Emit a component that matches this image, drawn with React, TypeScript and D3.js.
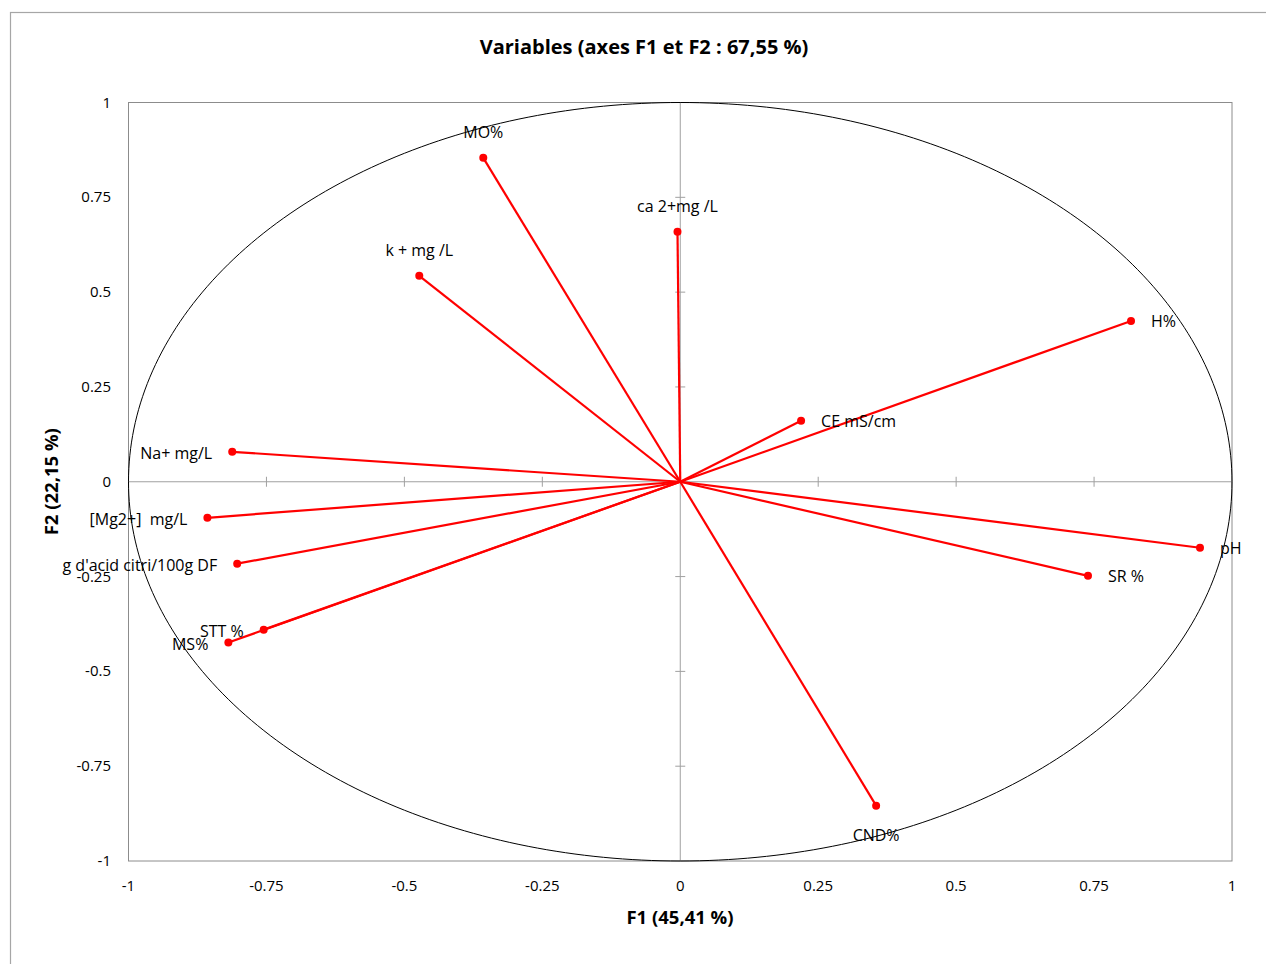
import React from "react";
import * as d3 from "d3";

const variables = ["MO%", "ca 2+mg /L", "k + mg /L", "H%", "CE mS/cm", "Na+ mg/L", "[Mg2+]\u00a0\u00a0mg/L", "g d'acid citri/100g DF", "STT %", "MS%", "pH", "SR %", "CND%"];
const f1Values = [-0.357, -0.005, -0.473, 0.817, 0.219, -0.812, -0.857, -0.803, -0.755, -0.819, 0.942, 0.739, 0.355];
const f2Values = [0.854, 0.659, 0.543, 0.424, 0.161, 0.079, -0.095, -0.216, -0.39, -0.424, -0.174, -0.248, -0.854];
// label placement: t=top, r=right, l=left, b=bottom
const labelPos = ["t", "t", "t", "r", "r", "l", "l", "l", "l", "l", "r", "r", "b"];
const tickValues = [-1, -0.75, -0.5, -0.25, 0, 0.25, 0.5, 0.75, 1];

const FONT = "'Open Sans', 'Liberation Sans', sans-serif";

export default function App() {
  const W = 1266, H = 964;
  const left = 128.5, right = 1232, top = 102.5, bottom = 861;
  const x = d3.scaleLinear().domain([-1, 1]).range([left, right]);
  const y = d3.scaleLinear().domain([-1, 1]).range([bottom, top]);
  const fmt = (v: number) => String(v);
  const x0 = x(0), y0 = y(0);

  const circle = d3.range(0, 361, 1).map((a) => [Math.cos((a * Math.PI) / 180), Math.sin((a * Math.PI) / 180)] as [number, number]);
  const circlePath = d3.line<[number, number]>().x((d) => x(d[0])).y((d) => y(d[1]))(circle) || "";

  return (
    <svg width={W} height={H} style={{ position: "absolute", left: 0, top: 0 }} fontFamily={FONT}>
      <rect x={0} y={0} width={W} height={H} fill="white" />
      <rect x={10.5} y={12.5} width={W + 20} height={H + 20} fill="white" stroke="#a6a6a6" strokeWidth={1.2} />
      <text x={644} y={54} textAnchor="middle" fontSize={20} fontWeight="bold" fill="#000">Variables (axes F1 et F2 : 67,55 %)</text>
      <rect x={left} y={top} width={right - left} height={bottom - top} fill="none" stroke="#8c8c8c" strokeWidth={1} />
      <line x1={left} x2={right} y1={y0} y2={y0} stroke="#a0a0a0" strokeWidth={1} />
      <line x1={x0} x2={x0} y1={top} y2={bottom} stroke="#a0a0a0" strokeWidth={1} />
      {tickValues.filter((t) => t !== 0 && Math.abs(t) !== 1).map((t) => (
        <g key={"t" + t}>
          <line x1={x(t)} x2={x(t)} y1={y0 - 5} y2={y0 + 5} stroke="#a0a0a0" />
          <line x1={x0 - 5} x2={x0 + 5} y1={y(t)} y2={y(t)} stroke="#a0a0a0" />
        </g>
      ))}
      {tickValues.map((t) => (
        <text key={"xl" + t} x={x(t)} y={891} textAnchor="middle" fontSize={15} fill="#000">{fmt(t)}</text>
      ))}
      {tickValues.map((t) => (
        <text key={"yl" + t} x={111} y={y(t) + 5} textAnchor="end" fontSize={15} fill="#000">{fmt(t)}</text>
      ))}
      <text x={680} y={924} textAnchor="middle" fontSize={18.5} fontWeight="bold">F1 (45,41 %)</text>
      <text transform={`translate(58,${y0}) rotate(-90)`} textAnchor="middle" fontSize={18.5} fontWeight="bold">F2 (22,15 %)</text>
      <path d={circlePath} fill="none" stroke="#000" strokeWidth={1} />
      {variables.map((v, i) => (
        <line key={"v" + i} x1={x0} y1={y0} x2={x(f1Values[i])} y2={y(f2Values[i])} stroke="#ff0000" strokeWidth={2.2} />
      ))}
      {variables.map((v, i) => (
        <circle key={"c" + i} cx={x(f1Values[i])} cy={y(f2Values[i])} r={4} fill="#ff0000" />
      ))}
      {variables.map((v, i) => {
        const px = x(f1Values[i]), py = y(f2Values[i]);
        const p = labelPos[i];
        let lx = px, ly = py, anchor = "middle";
        if (p === "t") { ly = py - 20; }
        else if (p === "b") { ly = py + 35; }
        else if (p === "r") { lx = px + 20; ly = py + 6; anchor = "start"; }
        else { lx = px - 20; ly = py + 7; anchor = "end"; }
        return <text key={"l" + i} x={lx} y={ly} textAnchor={anchor as any} fontSize={16} fill="#000">{v}</text>;
      })}
    </svg>
  );
}
